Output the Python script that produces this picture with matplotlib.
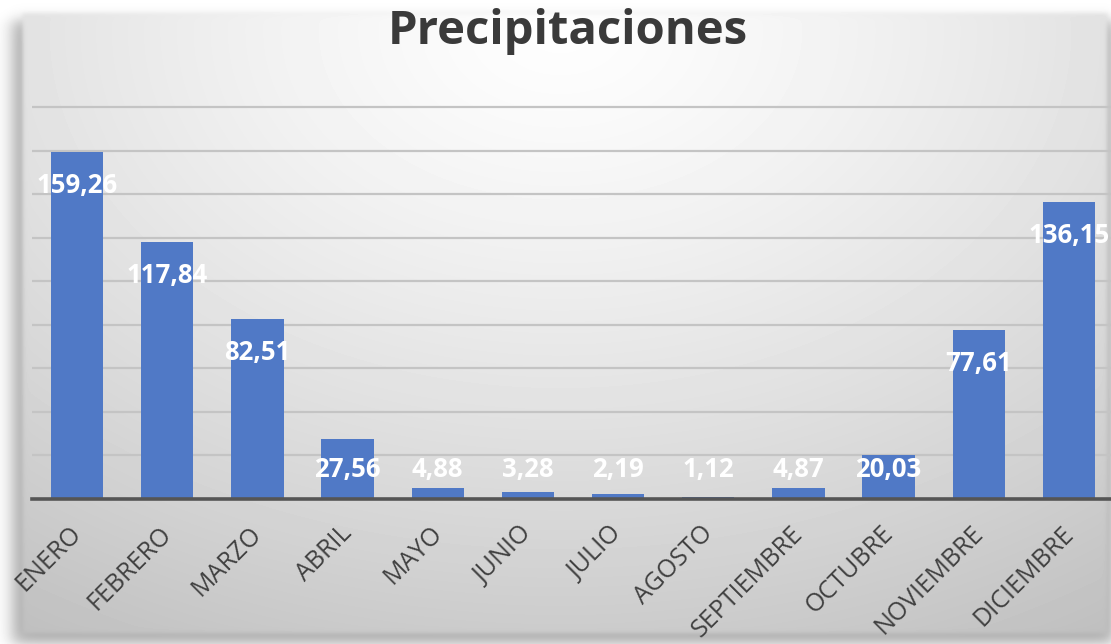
import numpy as np
import matplotlib.pyplot as plt
import matplotlib.transforms as mtransforms

plt.rcParams['font.family'] = ['Open Sans', 'DejaVu Sans']

meses = ["ENERO", "FEBRERO", "MARZO", "ABRIL", "MAYO", "JUNIO", "JULIO",
         "AGOSTO", "SEPTIEMBRE", "OCTUBRE", "NOVIEMBRE", "DICIEMBRE"]
precip = [159.26, 117.84, 82.51, 27.56, 4.88, 3.28, 2.19, 1.12, 4.87, 20.03, 77.61, 136.15]
etiquetas = ["159,26", "117,84", "82,51", "27,56", "4,88", "3,28", "2,19",
             "1,12", "4,87", "20,03", "77,61", "136,15"]

W, H = 1111, 644
fig = plt.figure(figsize=(W / 100, H / 100), dpi=100)

# fondo: panel con degradado y sombra exterior
yy, xx = np.mgrid[0:H, 0:W].astype(float)
sig = lambda t: 1 / (1 + np.exp(-t))
sombra = 0.33 * sig((xx - 12) / 5) * sig((yy - 20) / 4) * sig((643 - yy) / 4) * sig((1113 - xx) / 4)
fondo = 1 - sombra
r = np.sqrt(((xx - 560) / 800) ** 2 + ((yy - 30) / 560) ** 2)
panel = 0.995 - 0.18 * r ** 1.3
m = sig((xx - 22) / 1.2) * sig((yy - 13) / 1.2) * sig((633 - yy) / 1.2) * sig((1107 - xx) / 1.2)
img = fondo * (1 - m) + panel * m
bg = fig.add_axes([0, 0, 1, 1])
bg.imshow(np.clip(img, 0, 1), cmap='gray', vmin=0, vmax=1, aspect='auto', interpolation='bilinear')
bg.axis('off')

ax = fig.add_axes([32 / W, (H - 499) / H, 1082 / W, 394.2 / H])
ax.patch.set_alpha(0)
x = np.arange(len(meses))
ax.bar(x, precip, width=0.58, color='#5079c6', zorder=3)
ax.set_xlim(-0.5, 11.5)
ax.set_ylim(0, 181)
ax.set_yticks(np.arange(20, 181, 20))
ax.yaxis.grid(True, color='#c4c4c4', linewidth=1.6, zorder=0)
ax.tick_params(axis='y', left=False, labelleft=False)
for s in ['top', 'right', 'left']:
    ax.spines[s].set_visible(False)
ax.spines['bottom'].set_color('#555555')
ax.spines['bottom'].set_linewidth(2.6)
ax.spines['bottom'].set_zorder(4)

ax.set_xticks(x)
ax.set_xticklabels(meses, rotation=45, ha='right', va='top', rotation_mode='anchor',
                   fontsize=18, color='#404040')
ax.tick_params(axis='x', length=0, pad=16)
desplaza = mtransforms.ScaledTranslation(-0.08, 0, fig.dpi_scale_trans)
for lab in ax.get_xticklabels():
    lab.set_transform(lab.get_transform() + desplaza)

for xi, v, t in zip(x, precip, etiquetas):
    ax.text(xi, max(v - 15.3, 13.5), t, ha='center', va='center', color='white',
            fontsize=18.5, fontweight='bold', zorder=5)

fig.text(0.511, 0.951, "Precipitaciones", ha='center', va='center', fontsize=34,
         fontweight='bold', color='#3a3a3a')

fig.savefig('out.png', dpi=100)
